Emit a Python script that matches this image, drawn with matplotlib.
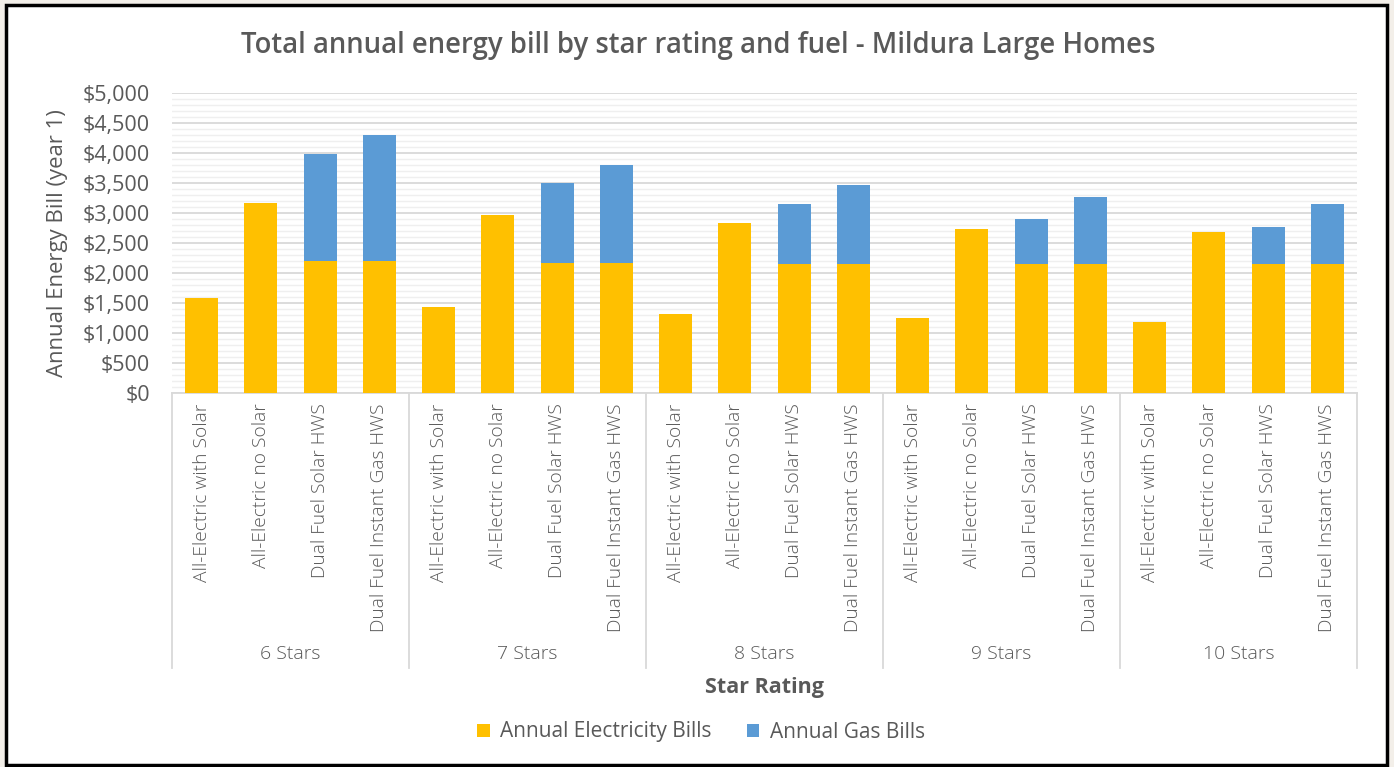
import numpy as np
import matplotlib.pyplot as plt
from matplotlib.patches import Rectangle
from matplotlib.ticker import FuncFormatter

plt.rcParams['font.family'] = ['Open Sans', 'DejaVu Sans']

star_ratings = ["6 Stars", "7 Stars", "8 Stars", "9 Stars", "10 Stars"]
home_types = ["All-Electric with Solar", "All-Electric no Solar",
              "Dual Fuel Solar HWS", "Dual Fuel Instant Gas HWS"]

electricity = [1587, 3162, 2193, 2193,
               1430, 2962, 2172, 2172,
               1313, 2833, 2155, 2155,
               1253, 2728, 2155, 2155,
               1186, 2678, 2155, 2155]
gas = [0, 0, 1788, 2110,
       0, 0, 1325, 1630,
       0, 0, 991, 1313,
       0, 0, 745, 1113,
       0, 0, 611, 991]

W, H = 1394, 767
fig = plt.figure(figsize=(W / 100, H / 100), dpi=100)
fig.patch.set_facecolor('#f3efe9')
fig.patches.append(Rectangle((6 / W, 2 / H), (1387 - 6) / W, (762 - 2) / H,
                             transform=fig.transFigure, facecolor='white',
                             edgecolor='black', linewidth=2.5, zorder=-5))

left, right, top, bottom = 172, 1357, 93, 393
ax = fig.add_axes([left / W, 1 - bottom / H, (right - left) / W, (bottom - top) / H])
ax.set_facecolor('none')

x = np.arange(len(electricity))
text_col = '#595959'
ax.bar(x, electricity, width=0.56, color='#FFC000', label='Annual Electricity Bills', zorder=3)
ax.bar(x, gas, width=0.56, bottom=electricity, color='#5B9BD5', label='Annual Gas Bills', zorder=3)

ax.set_xlim(-0.5, len(x) - 0.5)
ax.set_ylim(0, 5000)
ax.set_yticks(np.arange(0, 5001, 500))
ax.set_yticks(np.arange(0, 5001, 100), minor=True)
ax.yaxis.set_major_formatter(FuncFormatter(lambda v, p: f"${v:,.0f}"))
ax.grid(axis='y', which='major', color='#d9d9d9', linewidth=1.3, zorder=0)
ax.grid(axis='y', which='minor', color='#efefef', linewidth=1.0, zorder=0)
ax.tick_params(axis='y', which='both', length=0, labelsize=15.5, labelcolor=text_col, pad=16)
ax.set_xticks([])
for s in ['top', 'right', 'left']:
    ax.spines[s].set_visible(False)
ax.spines['bottom'].set_color('#d9d9d9')
ax.spines['bottom'].set_linewidth(1.3)

trans = ax.get_xaxis_transform()
n = len(home_types)
for i in x:
    ax.text(i, -0.035, home_types[i % n], rotation=90, ha='center', va='top',
            fontsize=13.8, fontweight='light', color=text_col, transform=trans)
sep_bottom = -(668 - bottom) / (bottom - top)
for g in range(len(star_ratings) + 1):
    ax.plot([g * n - 0.5, g * n - 0.5], [0, sep_bottom], color='#d9d9d9',
            linewidth=1.3, transform=trans, clip_on=False)
for g, name in enumerate(star_ratings):
    ax.text(g * n + (n - 1) / 2, -(654 - bottom) / (bottom - top), name, ha='center', va='center',
            fontsize=14, fontweight='light', color=text_col, transform=trans)

fig.text(0.5 * (left + right) / W, 1 - 688 / H, "Star Rating", ha='center', va='center',
         fontsize=15.5, fontweight='bold', color=text_col)
fig.text(698 / W, 1 - 45 / H, "Total annual energy bill by star rating and fuel - Mildura Large Homes",
         ha='center', va='center', fontsize=19.8, fontweight='semibold', color=text_col)
fig.text(58 / W, 1 - 243 / H, "Annual Energy Bill (year 1)", rotation=90, ha='center', va='center',
         fontsize=15.9, color=text_col)

fig.legend(loc='center', bbox_to_anchor=(701 / W, 1 - 732 / H), ncol=2, frameon=False,
           fontsize=15, labelcolor=text_col, handlelength=0.6, handleheight=0.6,
           columnspacing=1.7, handletextpad=0.5)

fig.savefig('out.png', dpi=100)
